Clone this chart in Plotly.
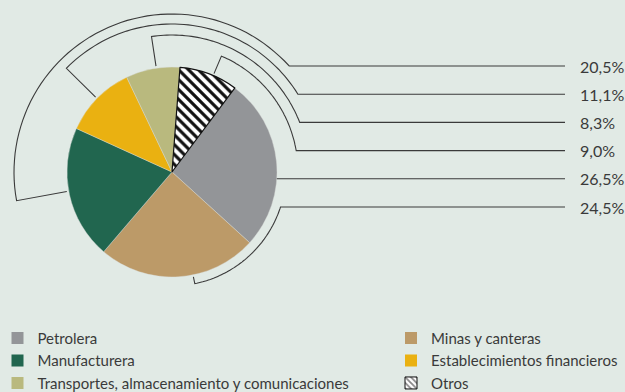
"""Pie of sector shares with bracket leader lines and a two-column legend."""

import math

import plotly.graph_objects as go

# data
SECTORS = [
    "Petrolera",
    "Minas y canteras",
    "Manufacturera",
    "Establecimientos financieros",
    "Transportes, almacenamiento y comunicaciones",
    "Otros",
]
SHARES = [26.5, 24.5, 20.5, 11.1, 8.3, 9.0]
COLORS = ["#939598", "#bc9a68", "#21664f", "#eab111", "#b9b97e", "#ffffff"]
PATTERNS = ["", "", "", "", "", "\\"]

# legend columns (sector names as above)
LEFT_COLUMN = ["Petrolera", "Manufacturera", "Transportes, almacenamiento y comunicaciones"]
RIGHT_COLUMN = ["Minas y canteras", "Establecimientos financieros", "Otros"]

# label order on the right, top to bottom
LABEL_ORDER = [
    "Manufacturera",
    "Establecimientos financieros",
    "Transportes, almacenamiento y comunicaciones",
    "Otros",
    "Petrolera",
    "Minas y canteras",
]

# layout constants (pixels)
W, H = 625, 392
CX, CY, R = 172, 172, 105
ROTATION = 36.8
BRACKET_R = {
    "Minas y canteras": 114,
    "Manufacturera": 158,
    "Establecimientos financieros": 148,
    "Transportes, almacenamiento y comunicaciones": 137,
    "Otros": 126,
}
TICK_NUDGE = {"Minas y canteras": -8, "Manufacturera": 2, "Otros": 2.5, "Transportes, almacenamiento y comunicaciones": 2}
ROW_TOP, ROW_STEP = 66, 28.2
LINE_END, LABEL_X = 565, 578
LINE_COLOR = "#3a3a3a"
BG = "#e1eae5"
LEGEND_FONT = dict(family="Lato, 'Open Sans', sans-serif", size=15, color="#3a3a3a")
LABEL_FONT = dict(family="Lato, 'Open Sans', sans-serif", size=16, color="#3a3a3a")


def pt(r, deg):
    a = math.radians(deg)
    return CX + r * math.sin(a), CY - r * math.cos(a)


def mid_angles():
    total = sum(SHARES)
    out, start = {}, ROTATION
    for name, v in zip(SECTORS, SHARES):
        span = 360 * v / total
        out[name] = start + span / 2
        start += span
    return out


def bracket_path(name, row_y, mids):
    if name not in BRACKET_R:
        x0 = CX + math.sqrt(R**2 - (row_y - CY) ** 2)
        return f"M{x0:.1f},{row_y:.1f} L{LINE_END},{row_y:.1f}"
    rb = BRACKET_R[name]
    tick = (mids[name] + TICK_NUDGE.get(name, 0)) % 360
    lead = math.degrees(math.acos((CY - row_y) / rb))
    if tick > 180:
        lead += 360
    x, y = pt(R + 2, tick)
    parts = [f"M{x:.1f},{y:.1f}"]
    n = 60
    for i in range(n + 1):
        x, y = pt(rb, tick + (lead - tick) * i / n)
        parts.append(f"L{x:.1f},{y:.1f}")
    parts.append(f"L{LINE_END},{row_y:.1f}")
    return " ".join(parts)


fig = go.Figure()

fig.add_trace(
    go.Pie(
        labels=SECTORS,
        values=SHARES,
        sort=False,
        direction="clockwise",
        rotation=ROTATION,
        textinfo="none",
        showlegend=False,
        marker=dict(
            colors=COLORS,
            line=dict(color=["#d8dcd9"] * 5 + ["#111111"], width=[0.4] * 5 + [1.2]),
            pattern=dict(shape=PATTERNS, fgcolor="#111111", bgcolor="#ffffff", size=7, solidity=0.45),
        ),
        domain=dict(
            x=[(CX - R) / W, (CX + R) / W],
            y=[(H - CY - R) / H, (H - CY + R) / H],
        ),
    )
)

# legend entries
for name in SECTORS:
    i = SECTORS.index(name)
    fig.add_trace(
        go.Bar(
            x=[None],
            y=[None],
            name=name,
            legend="legend" if name in LEFT_COLUMN else "legend2",
            marker=dict(
                color=COLORS[i],
                line=dict(color="#111111" if PATTERNS[i] else COLORS[i], width=1 if PATTERNS[i] else 0),
                pattern=dict(shape=PATTERNS[i], fgcolor="#111111", bgcolor="#ffffff", size=5, solidity=0.45),
            ),
            hoverinfo="skip",
        )
    )

mids = mid_angles()
shapes, annotations = [], []
for k, name in enumerate(LABEL_ORDER):
    row_y = ROW_TOP + ROW_STEP * k
    shapes.append(
        dict(type="path", xref="x", yref="y", path=bracket_path(name, row_y, mids),
             line=dict(color=LINE_COLOR, width=1.1))
    )
    value = SHARES[SECTORS.index(name)]
    annotations.append(
        dict(x=LABEL_X, y=row_y, xref="x", yref="y", text=f"{value:.1f}".replace(".", ",") + "%",
             showarrow=False, xanchor="left", yanchor="middle", font=LABEL_FONT)
    )

legend_common = dict(
    orientation="v", yanchor="top", y=0.1793, xanchor="left", tracegroupgap=0,
    bgcolor="rgba(0,0,0,0)", font=LEGEND_FONT, itemclick=False, itemdoubleclick=False,
)

fig.update_layout(
    width=W,
    height=H,
    margin=dict(l=0, r=0, t=0, b=0, autoexpand=False),
    paper_bgcolor=BG,
    plot_bgcolor=BG,
    xaxis=dict(range=[0, W], visible=False, fixedrange=True, domain=[0, 1]),
    yaxis=dict(range=[H, 0], visible=False, fixedrange=True, domain=[0, 1]),
    shapes=shapes,
    annotations=annotations,
    legend=dict(x=-0.004, **legend_common),
    legend2=dict(x=391 / W, **legend_common),
    showlegend=True,
)

fig.write_html(
    "out.html",
    config=dict(displayModeBar=False),
    post_script="document.body.style.margin='0';document.body.style.overflow='hidden';",
)
